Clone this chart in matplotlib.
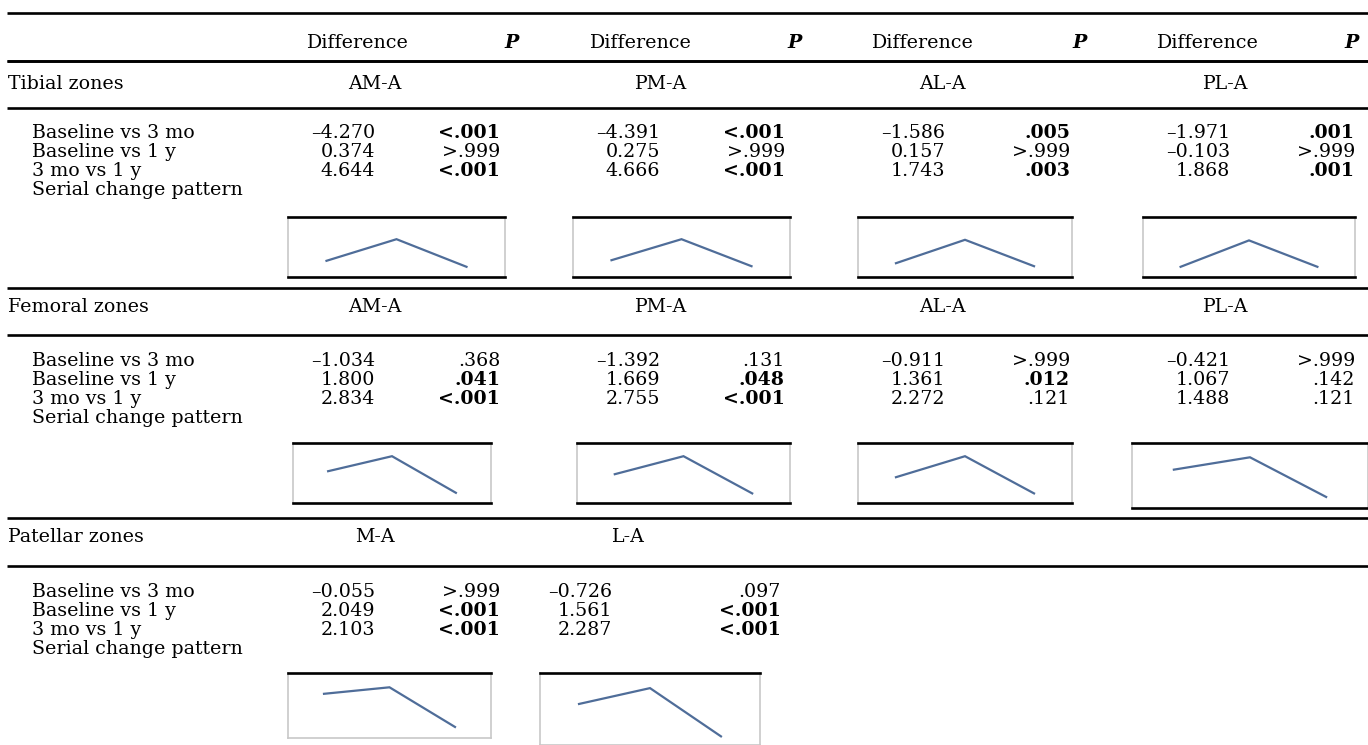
import matplotlib.pyplot as plt

comparisons = ["Baseline vs 3 mo", "Baseline vs 1 y", "3 mo vs 1 y"]

tibial_zones = ["AM-A", "PM-A", "AL-A", "PL-A"]
tibial_diff = [
    [-4.270, 0.374, 4.644],
    [-4.391, 0.275, 4.666],
    [-1.586, 0.157, 1.743],
    [-1.971, -0.103, 1.868],
]
tibial_p = [
    ["<.001", ">.999", "<.001"],
    ["<.001", ">.999", "<.001"],
    [".005", ">.999", ".003"],
    [".001", ">.999", ".001"],
]
# serial change pattern (baseline, 3 mo, 1 y), relative height inside each thumbnail
tibial_pattern = [
    [0.27, 0.63, 0.17],
    [0.28, 0.63, 0.18],
    [0.23, 0.62, 0.18],
    [0.17, 0.61, 0.17],
]

femoral_zones = ["AM-A", "PM-A", "AL-A", "PL-A"]
femoral_diff = [
    [-1.034, 1.800, 2.834],
    [-1.392, 1.669, 2.755],
    [-0.911, 1.361, 2.272],
    [-0.421, 1.067, 1.488],
]
femoral_p = [
    [".368", ".041", "<.001"],
    [".131", ".048", "<.001"],
    [">.999", ".012", ".121"],
    [">.999", ".142", ".121"],
]
femoral_pattern = [
    [0.53, 0.78, 0.17],
    [0.48, 0.78, 0.16],
    [0.43, 0.78, 0.16],
    [0.59, 0.78, 0.17],
]

patellar_zones = ["M-A", "L-A"]
patellar_diff = [
    [-0.055, 2.049, 2.103],
    [-0.726, 1.561, 2.287],
]
patellar_p = [
    [">.999", "<.001", "<.001"],
    [".097", "<.001", "<.001"],
]
patellar_pattern = [
    [0.68, 0.78, 0.17],
    [0.57, 0.79, 0.12],
]

# ---- layout (pixels, origin top-left) ----
W, H = 1368, 745
FS = 13.7
FONT = "DejaVu Serif"
LINE_COLOR = "#4f6d99"
SIDE_COLOR = "#c8c8c8"

sections = [
    dict(name="Tibial zones", zones=tibial_zones, diff=tibial_diff, p=tibial_p, pattern=tibial_pattern,
         top=61, head=84, rule=108, rows=[133, 152, 171, 190],
         diff_right=[375, 660, 945, 1230], p_right=[500, 785, 1070, 1355], label_x=[375, 660, 942, 1225],
         boxes=[(288, 505, 217, 277), (573, 790, 217, 277), (858, 1072, 217, 277), (1143, 1355, 217, 277)],
         bottom_black=True),
    dict(name="Femoral zones", zones=femoral_zones, diff=femoral_diff, p=femoral_p, pattern=femoral_pattern,
         top=288, head=307, rule=335, rows=[361, 380, 399, 418],
         diff_right=[375, 660, 945, 1230], p_right=[500, 785, 1070, 1355], label_x=[375, 660, 942, 1225],
         boxes=[(293, 491, 443, 503), (577, 790, 443, 503), (858, 1072, 443, 503), (1132, 1368, 443, 508)],
         bottom_black=True),
    dict(name="Patellar zones", zones=patellar_zones, diff=patellar_diff, p=patellar_p, pattern=patellar_pattern,
         top=518, head=537, rule=566, rows=[592, 611, 630, 649],
         diff_right=[375, 612], p_right=[500, 781], label_x=[375, 627],
         boxes=[(288, 491, 673, 738), (540, 760, 673, 745)],
         bottom_black=False),
]

header_diff_x = [357, 640, 922, 1207]
header_p_x = [512, 795, 1080, 1352]


def fmt_diff(v):
    return f"{v:.3f}".replace("-", "\u2013")


def is_sig(p):
    if p.startswith(">"):
        return False
    if p.startswith("<"):
        return True
    return float(p) < 0.05


fig = plt.figure(figsize=(W / 100, H / 100), dpi=100)
ax = fig.add_axes([0, 0, 1, 1])
ax.set_xlim(0, W)
ax.set_ylim(H, 0)
ax.axis("off")


def rule(y, lw=1.9):
    ax.plot([7, W], [y, y], color="black", lw=lw, solid_capstyle="butt")


def txt(x, y, s, ha="left", **kw):
    ax.text(x, y, s, ha=ha, va="center", fontsize=FS, family=FONT, **kw)


# header
rule(13)
for xd, xp in zip(header_diff_x, header_p_x):
    txt(xd, 43, "Difference", ha="center")
    txt(xp, 43, "P", ha="center", style="italic", weight="bold")
rule(61)

for sec in sections:
    rule(sec["top"])
    txt(8, sec["head"], sec["name"])
    for zone, lx in zip(sec["zones"], sec["label_x"]):
        txt(lx, sec["head"], zone, ha="center")
    rule(sec["rule"])

    for label, y in zip(comparisons, sec["rows"]):
        txt(32, y, label)
    txt(32, sec["rows"][3], "Serial change pattern")

    for g in range(len(sec["zones"])):
        for r in range(3):
            y = sec["rows"][r]
            txt(sec["diff_right"][g], y, fmt_diff(sec["diff"][g][r]), ha="right")
            p = sec["p"][g][r]
            txt(sec["p_right"][g], y, p, ha="right", weight="bold" if is_sig(p) else "normal")

        x0, x1, y0, y1 = sec["boxes"][g]
        sax = fig.add_axes([x0 / W, 1 - y1 / H, (x1 - x0) / W, (y1 - y0) / H])
        sax.plot([0, 1, 2], sec["pattern"][g], color=LINE_COLOR, lw=1.6, solid_joinstyle="miter")
        sax.set_xlim(-0.55, 2.55)
        sax.set_ylim(0, 1)
        sax.set_xticks([])
        sax.set_yticks([])
        sax.spines["top"].set_color("black")
        sax.spines["top"].set_linewidth(1.9)
        sax.spines["bottom"].set_color("black" if sec["bottom_black"] else SIDE_COLOR)
        sax.spines["bottom"].set_linewidth(1.9 if sec["bottom_black"] else 1.2)
        for side in ("left", "right"):
            sax.spines[side].set_color(SIDE_COLOR)
            sax.spines[side].set_linewidth(1.2)

fig.savefig("out.png", dpi=100)
